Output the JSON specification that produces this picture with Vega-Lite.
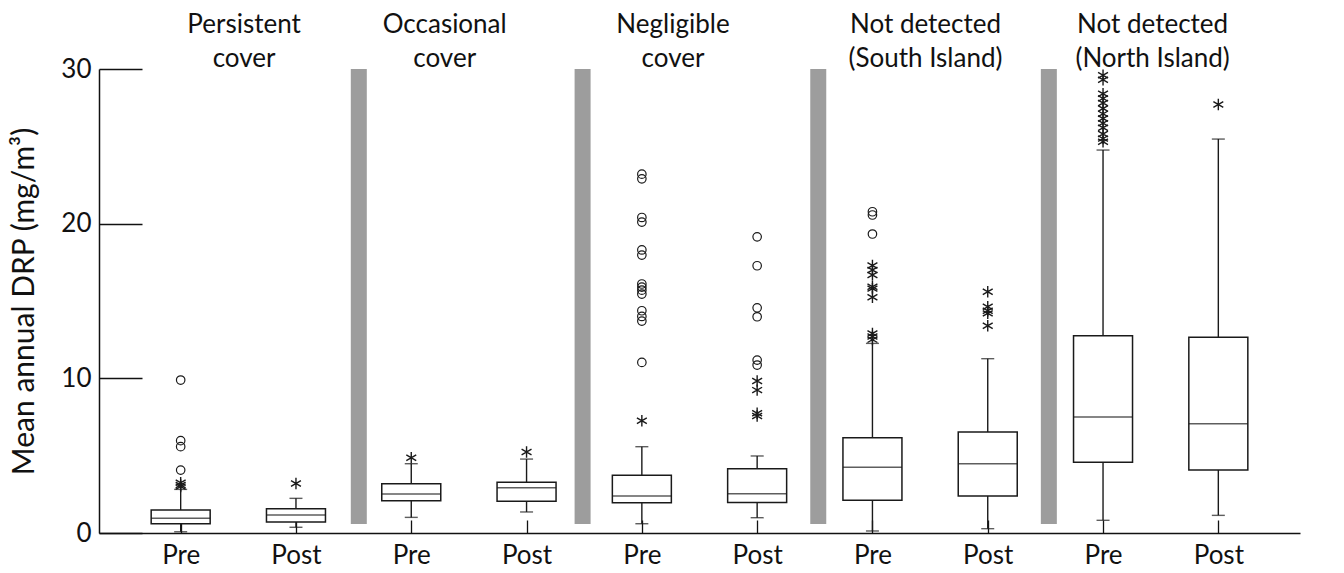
{
  "$schema": "https://vega.github.io/schema/vega-lite/v6.json",
  "width": 1201,
  "height": 464,
  "autosize": {"type": "none"},
  "padding": {"left": 99, "top": 69, "right": 44, "bottom": 40},
  "background": "white",
  "config": {
    "font": "Lato",
    "view": {"stroke": null},
    "axis": {"labelFont": "Lato", "titleFont": "Lato", "labelColor": "#111", "titleColor": "#111", "domainColor": "#111", "tickColor": "#111", "domainWidth": 1.5, "tickWidth": 1.3, "grid": false, "labelFlush": false, "labelOverlap": false}
  },
  "datasets": {
    "boxes": [
      {"pos": 1, "lo": 0.08, "q1": 0.60, "med": 0.95, "q3": 1.49, "hi": 2.82},
      {"pos": 2, "lo": 0.37, "q1": 0.71, "med": 1.16, "q3": 1.57, "hi": 2.24},
      {"pos": 3, "lo": 1.01, "q1": 2.09, "med": 2.52, "q3": 3.19, "hi": 4.48},
      {"pos": 4, "lo": 1.36, "q1": 2.05, "med": 2.93, "q3": 3.28, "hi": 4.78},
      {"pos": 5, "lo": 0.60, "q1": 1.96, "med": 2.39, "q3": 3.73, "hi": 5.58},
      {"pos": 6, "lo": 0.99, "q1": 1.98, "med": 2.54, "q3": 4.16, "hi": 4.98},
      {"pos": 7, "lo": 0.13, "q1": 2.11, "med": 4.25, "q3": 6.16, "hi": 12.26},
      {"pos": 8, "lo": 0.28, "q1": 2.39, "med": 4.48, "q3": 6.53, "hi": 11.27},
      {"pos": 9, "lo": 0.82, "q1": 4.57, "med": 7.50, "q3": 12.75, "hi": 24.76},
      {"pos": 10, "lo": 1.14, "q1": 4.07, "med": 7.07, "q3": 12.65, "hi": 25.47}
    ],
    "outliers": [
      {"pos": 1, "v": 3.0, "kind": "star"}, {"pos": 1, "v": 3.1, "kind": "star"}, {"pos": 1, "v": 3.25, "kind": "star"},
      {"pos": 1, "v": 4.07, "kind": "circle"}, {"pos": 1, "v": 5.58, "kind": "circle"}, {"pos": 1, "v": 5.97, "kind": "circle"}, {"pos": 1, "v": 9.89, "kind": "circle"},
      {"pos": 2, "v": 3.2, "kind": "star"},
      {"pos": 3, "v": 4.87, "kind": "star"},
      {"pos": 4, "v": 5.24, "kind": "star"},
      {"pos": 5, "v": 7.26, "kind": "star"},
      {"pos": 5, "v": 11.03, "kind": "circle"}, {"pos": 5, "v": 13.7, "kind": "circle"}, {"pos": 5, "v": 14.0, "kind": "circle"}, {"pos": 5, "v": 14.37, "kind": "circle"},
      {"pos": 5, "v": 15.45, "kind": "circle"}, {"pos": 5, "v": 15.7, "kind": "circle"}, {"pos": 5, "v": 15.9, "kind": "circle"}, {"pos": 5, "v": 16.1, "kind": "circle"},
      {"pos": 5, "v": 17.97, "kind": "circle"}, {"pos": 5, "v": 18.3, "kind": "circle"}, {"pos": 5, "v": 20.1, "kind": "circle"}, {"pos": 5, "v": 20.4, "kind": "circle"},
      {"pos": 5, "v": 22.9, "kind": "circle"}, {"pos": 5, "v": 23.2, "kind": "circle"},
      {"pos": 6, "v": 7.56, "kind": "star"}, {"pos": 6, "v": 7.74, "kind": "star"}, {"pos": 6, "v": 9.24, "kind": "star"}, {"pos": 6, "v": 9.83, "kind": "star"},
      {"pos": 6, "v": 10.86, "kind": "circle"}, {"pos": 6, "v": 11.18, "kind": "circle"}, {"pos": 6, "v": 13.98, "kind": "circle"}, {"pos": 6, "v": 14.56, "kind": "circle"},
      {"pos": 6, "v": 17.28, "kind": "circle"}, {"pos": 6, "v": 19.15, "kind": "circle"},
      {"pos": 7, "v": 12.5, "kind": "star"}, {"pos": 7, "v": 12.7, "kind": "star"}, {"pos": 7, "v": 12.9, "kind": "star"}, {"pos": 7, "v": 15.24, "kind": "star"},
      {"pos": 7, "v": 15.8, "kind": "star"}, {"pos": 7, "v": 15.92, "kind": "star"}, {"pos": 7, "v": 16.68, "kind": "star"}, {"pos": 7, "v": 17.0, "kind": "star"}, {"pos": 7, "v": 17.3, "kind": "star"},
      {"pos": 7, "v": 19.33, "kind": "circle"}, {"pos": 7, "v": 20.56, "kind": "circle"}, {"pos": 7, "v": 20.77, "kind": "circle"},
      {"pos": 8, "v": 13.4, "kind": "star"}, {"pos": 8, "v": 14.2, "kind": "star"}, {"pos": 8, "v": 14.37, "kind": "star"}, {"pos": 8, "v": 14.63, "kind": "star"}, {"pos": 8, "v": 15.6, "kind": "star"},
      {"pos": 9, "v": 25.3, "kind": "star"}, {"pos": 9, "v": 25.5, "kind": "star"}, {"pos": 9, "v": 25.8, "kind": "star"}, {"pos": 9, "v": 26.2, "kind": "star"},
      {"pos": 9, "v": 26.5, "kind": "star"}, {"pos": 9, "v": 26.8, "kind": "star"}, {"pos": 9, "v": 27.1, "kind": "star"}, {"pos": 9, "v": 27.45, "kind": "star"},
      {"pos": 9, "v": 27.8, "kind": "star"}, {"pos": 9, "v": 28.1, "kind": "star"}, {"pos": 9, "v": 28.4, "kind": "star"}, {"pos": 9, "v": 29.3, "kind": "star"}, {"pos": 9, "v": 29.6, "kind": "star"},
      {"pos": 10, "v": 27.7, "kind": "star"}
    ],
    "separators": [{"sep": 2.545}, {"sep": 4.486}, {"sep": 6.53}, {"sep": 8.53}],
    "groups": [
      {"tpos": 1.55, "label": "Persistent\ncover"},
      {"tpos": 3.29, "label": "Occasional\ncover"},
      {"tpos": 5.27, "label": "Negligible\ncover"},
      {"tpos": 7.46, "label": "Not detected\n(South Island)"},
      {"tpos": 9.43, "label": "Not detected\n(North Island)"}
    ]
  },
  "layer": [
    {
      "data": {"name": "separators"},
      "mark": {"type": "rule", "strokeWidth": 16, "color": "#9d9d9d"},
      "encoding": {
        "x": {"field": "sep", "type": "quantitative", "scale": {"domain": [0.335, 10.665], "nice": false, "zero": false},
          "axis": {"values": [1, 2, 3, 4, 5, 6, 7, 8, 9, 10], "labelExpr": "datum.value % 2 == 1 ? 'Pre' : 'Post'", "tickSize": -13, "title": null, "labelFontSize": 26, "labelPadding": 22}},
        "y": {"datum": 0.58, "type": "quantitative", "scale": {"domain": [0, 30], "nice": false, "zero": false},
          "axis": {"values": [0, 10, 20, 30], "tickSize": -43, "title": "Mean annual DRP (mg/m³)", "labelFontSize": 26, "titleFontSize": 30, "titleFontWeight": "normal", "labelPadding": 51, "titlePadding": 21}},
        "y2": {"datum": 30}
      }
    },
    {
      "data": {"name": "boxes"},
      "mark": {"type": "rule", "strokeWidth": 1.4, "color": "#1a1a1a"},
      "encoding": {
        "x": {"field": "pos", "type": "quantitative", "scale": {"domain": [0.335, 10.665], "nice": false, "zero": false}},
        "y": {"field": "lo", "type": "quantitative", "scale": {"domain": [0, 30], "nice": false, "zero": false}},
        "y2": {"field": "hi"}
      }
    },
    {
      "data": {"name": "boxes"},
      "mark": {"type": "bar", "size": 59, "fill": "white", "stroke": "#1a1a1a", "strokeWidth": 1.5},
      "encoding": {
        "x": {"field": "pos", "type": "quantitative", "scale": {"domain": [0.335, 10.665], "nice": false, "zero": false}},
        "y": {"field": "q1", "type": "quantitative", "scale": {"domain": [0, 30], "nice": false, "zero": false}},
        "y2": {"field": "q3"}
      }
    },
    {
      "data": {"name": "boxes"},
      "mark": {"type": "tick", "orient": "horizontal", "size": 59, "thickness": 1.5, "color": "#1a1a1a"},
      "encoding": {
        "x": {"field": "pos", "type": "quantitative", "scale": {"domain": [0.335, 10.665], "nice": false, "zero": false}},
        "y": {"field": "med", "type": "quantitative", "scale": {"domain": [0, 30], "nice": false, "zero": false}}
      }
    },
    {
      "data": {"name": "boxes"},
      "mark": {"type": "tick", "orient": "horizontal", "size": 13, "thickness": 1.4, "color": "#1a1a1a"},
      "encoding": {
        "x": {"field": "pos", "type": "quantitative", "scale": {"domain": [0.335, 10.665], "nice": false, "zero": false}},
        "y": {"field": "lo", "type": "quantitative", "scale": {"domain": [0, 30], "nice": false, "zero": false}}
      }
    },
    {
      "data": {"name": "boxes"},
      "mark": {"type": "tick", "orient": "horizontal", "size": 13, "thickness": 1.4, "color": "#1a1a1a"},
      "encoding": {
        "x": {"field": "pos", "type": "quantitative", "scale": {"domain": [0.335, 10.665], "nice": false, "zero": false}},
        "y": {"field": "hi", "type": "quantitative", "scale": {"domain": [0, 30], "nice": false, "zero": false}}
      }
    },
    {
      "data": {"name": "outliers"},
      "transform": [{"filter": "datum.kind == 'circle'"}],
      "mark": {"type": "point", "shape": "circle", "filled": false, "size": 72, "stroke": "#1a1a1a", "strokeWidth": 1.2, "opacity": 1},
      "encoding": {
        "x": {"field": "pos", "type": "quantitative", "scale": {"domain": [0.335, 10.665], "nice": false, "zero": false}},
        "y": {"field": "v", "type": "quantitative", "scale": {"domain": [0, 30], "nice": false, "zero": false}}
      }
    },
    {
      "data": {"name": "outliers"},
      "transform": [{"filter": "datum.kind == 'star'"}],
      "mark": {"type": "point", "shape": "M0,-1L0,1M-0.87,-0.5L0.87,0.5M-0.87,0.5L0.87,-0.5", "filled": false, "size": 130, "stroke": "#1a1a1a", "strokeWidth": 1.4, "opacity": 1},
      "encoding": {
        "x": {"field": "pos", "type": "quantitative", "scale": {"domain": [0.335, 10.665], "nice": false, "zero": false}},
        "y": {"field": "v", "type": "quantitative", "scale": {"domain": [0, 30], "nice": false, "zero": false}}
      }
    },
    {
      "mark": {"type": "rule", "strokeWidth": 4, "strokeDash": [14, 11], "color": "#505050", "clip": false},
      "encoding": {
        "x": {"datum": 0.36, "type": "quantitative", "scale": {"domain": [0.335, 10.665], "nice": false, "zero": false}},
        "x2": {"datum": 10.94},
        "y": {"datum": 1.87, "type": "quantitative", "scale": {"domain": [0, 30], "nice": false, "zero": false}}
      }
    },
    {
      "data": {"name": "groups"},
      "mark": {"type": "text", "fontSize": 26, "lineBreak": "\n", "lineHeight": 34, "baseline": "middle", "align": "center", "color": "#111", "clip": false},
      "encoding": {
        "x": {"field": "tpos", "type": "quantitative", "scale": {"domain": [0.335, 10.665], "nice": false, "zero": false}},
        "y": {"datum": 32.82, "type": "quantitative", "scale": {"domain": [0, 30], "nice": false, "zero": false}},
        "text": {"field": "label", "type": "nominal"}
      }
    }
  ]
}
